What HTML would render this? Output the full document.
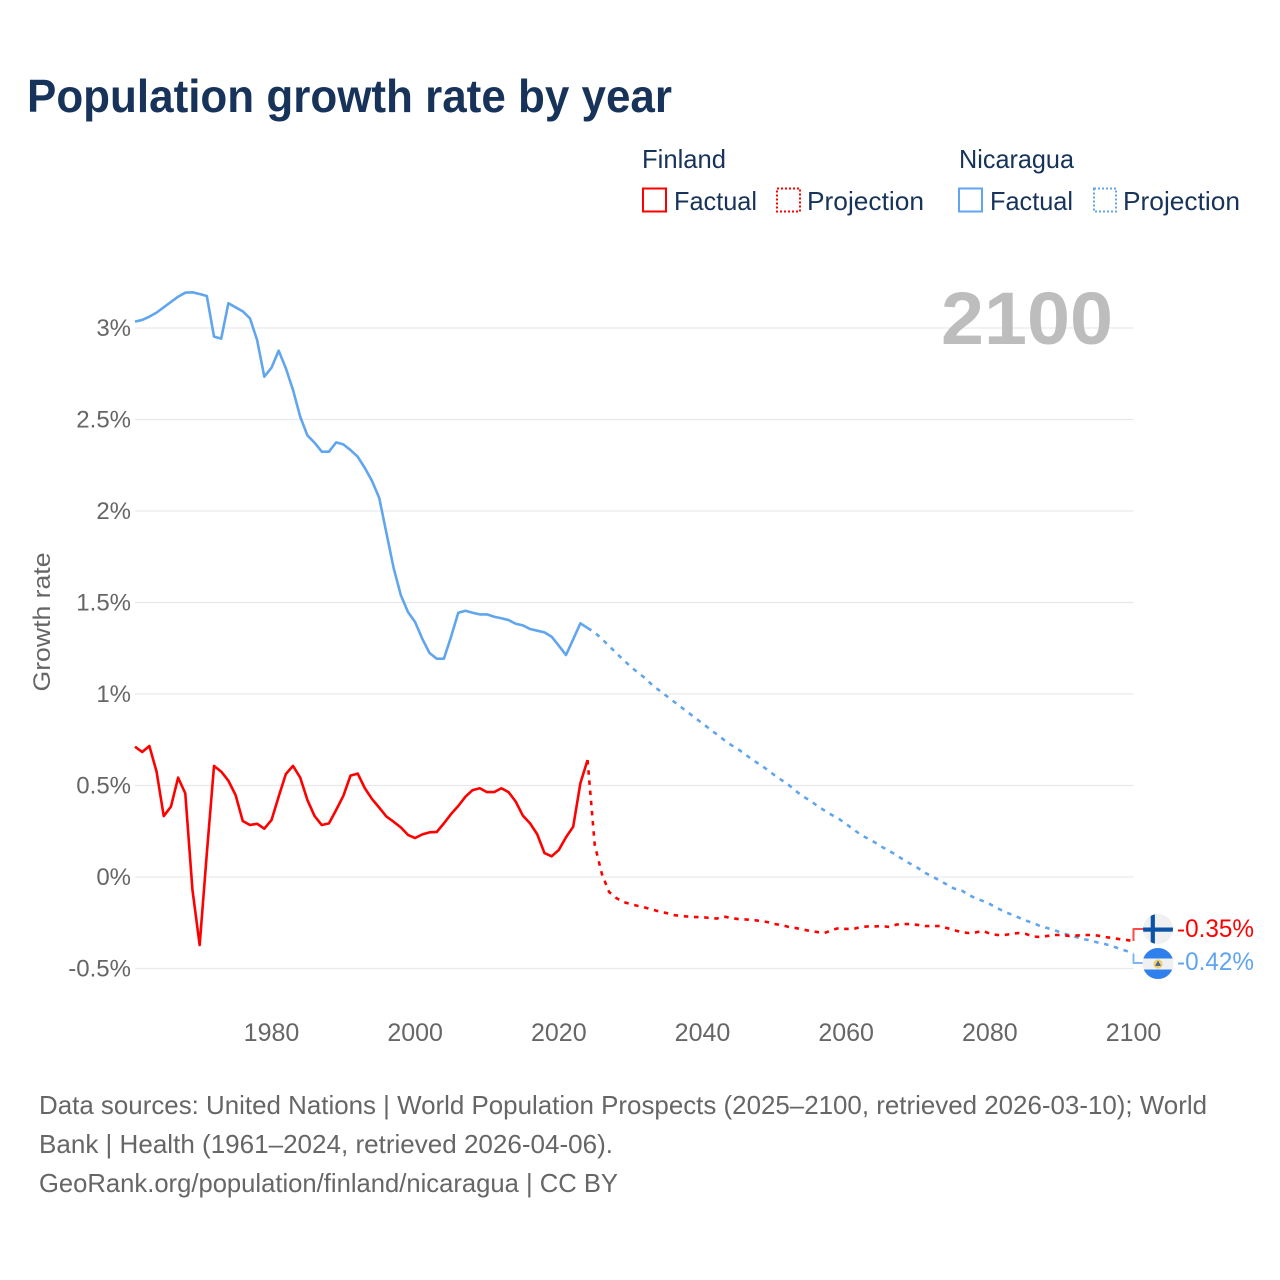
<!DOCTYPE html>
<html lang="en">
<head>
<meta charset="utf-8">
<title>Population growth rate by year</title>
<style>
html,body{margin:0;padding:0;background:#fff;width:1280px;height:1280px;overflow:hidden}
svg{display:block;font-family:"Liberation Sans",sans-serif}
</style>
</head>
<body>
<svg id="chart" width="1280" height="1280" viewBox="0 0 1280 1280" xmlns="http://www.w3.org/2000/svg">
  <defs>
    <clipPath id="clip-fi"><circle cx="1158" cy="929" r="15"/></clipPath>
    <clipPath id="clip-ni"><circle cx="1158" cy="963.5" r="15.5"/></clipPath>
  </defs>
  <rect width="1280" height="1280" fill="#fff"/>
  <text x="27" y="112" font-size="46" font-weight="700" fill="#17335a" textLength="645" lengthAdjust="spacingAndGlyphs">Population growth rate by year</text>

  <g font-size="26" fill="#17335a">
    <text x="642" y="168" textLength="84" lengthAdjust="spacingAndGlyphs">Finland</text>
    <rect x="643" y="188.5" width="23" height="23" fill="none" stroke="#ff0000" stroke-width="2"/>
    <text x="674" y="210" textLength="83" lengthAdjust="spacingAndGlyphs">Factual</text>
    <rect x="777" y="188.5" width="23" height="23" fill="none" stroke="#ff0000" stroke-width="2" stroke-dasharray="2 2"/>
    <text x="807" y="210" textLength="117" lengthAdjust="spacingAndGlyphs">Projection</text>
    <text x="959" y="168" textLength="115" lengthAdjust="spacingAndGlyphs">Nicaragua</text>
    <rect x="959" y="188.5" width="23" height="23" fill="none" stroke="#60a5ee" stroke-width="2"/>
    <text x="990" y="210" textLength="83" lengthAdjust="spacingAndGlyphs">Factual</text>
    <rect x="1094" y="188.5" width="22" height="23" fill="none" stroke="#60a5ee" stroke-width="2" stroke-dasharray="2 2"/>
    <text x="1123" y="210" textLength="117" lengthAdjust="spacingAndGlyphs">Projection</text>
  </g>

  <g id="grid"></g>
  <g id="y-ticks"></g>
  <g id="x-ticks"></g>
  <text transform="translate(50 622) rotate(-90)" text-anchor="middle" font-size="24" fill="#666" textLength="139" lengthAdjust="spacingAndGlyphs">Growth rate</text>
  <text x="1113" y="344" text-anchor="end" font-size="74" font-weight="700" fill="#bdbdbd" textLength="172" lengthAdjust="spacingAndGlyphs">2100</text>

  <g id="series"></g>

  <g>
    <circle cx="1158" cy="929" r="15" fill="#eff0f1"/>
    <g clip-path="url(#clip-fi)">
      <rect x="1143" y="927.5" width="30" height="4.2" fill="#0b53a7"/>
      <rect x="1150.7" y="914" width="4.2" height="30" fill="#0b53a7"/>
    </g>
  </g>
  <g>
    <circle cx="1158" cy="963.5" r="15.5" fill="#eff0f1"/>
    <g clip-path="url(#clip-ni)">
      <rect x="1142" y="948" width="32" height="10.5" fill="#2f80ed"/>
      <rect x="1142" y="969.5" width="32" height="10" fill="#2f80ed"/>
    </g>
    <circle cx="1158" cy="964" r="4.6" fill="#f4cf6b"/>
    <path d="M1158 960.5 L1161 966 L1155 966 Z" fill="#44699a"/>
  </g>
  <text id="label-fi" x="1177" y="937" font-size="25" fill="#ff0000" textLength="77" lengthAdjust="spacingAndGlyphs"></text>
  <text id="label-ni" x="1177" y="970" font-size="25" fill="#60a5ee" textLength="77" lengthAdjust="spacingAndGlyphs"></text>

  <g font-size="26" fill="#666">
    <text x="39" y="1114" textLength="1168" lengthAdjust="spacingAndGlyphs">Data sources: United Nations | World Population Prospects (2025–2100, retrieved 2026-03-10); World</text>
    <text x="39" y="1153" textLength="574" lengthAdjust="spacingAndGlyphs">Bank | Health (1961–2024, retrieved 2026-04-06).</text>
    <text x="39" y="1192" textLength="579" lengthAdjust="spacingAndGlyphs">GeoRank.org/population/finland/nicaragua | CC BY</text>
  </g>
</svg>
<script>
const factualStartYear = 1961;
const projectionStartYear = 2025;
const yTickValues = [3, 2.5, 2, 1.5, 1, 0.5, 0, -0.5];
const yTickLabels = ["3%", "2.5%", "2%", "1.5%", "1%", "0.5%", "0%", "-0.5%"];
const xTickValues = [1980, 2000, 2020, 2040, 2060, 2080, 2100];

const finlandFactual = [
  .712,.683,.716,.576,.333,.384,.543,.457,-.071,-.372,
  .129,.607,.576,.526,.448,.306,.284,.291,.264,.311,
  .439,.563,.607,.543,.421,.333,.284,.293,.366,.443,
  .554,.565,.485,.426,.379,.33,.302,.271,.23,.213,
  .233,.244,.246,.293,.344,.388,.439,.475,.485,.464,
  .464,.485,.464,.412,.335,.293,.233,.131,.113,.148,
  .217,.275,.512,.639
];
const finlandProjection = [
  .175,.016,-.082,-.115,-.137,-.148,-.158,-.167,-.178,-.189,
  -.197,-.208,-.213,-.216,-.219,-.219,-.224,-.227,-.216,-.224,
  -.23,-.232,-.235,-.24,-.246,-.257,-.262,-.273,-.279,-.287,
  -.295,-.301,-.306,-.29,-.279,-.284,-.284,-.273,-.27,-.27,
  -.268,-.273,-.26,-.257,-.257,-.262,-.268,-.268,-.268,-.279,
  -.29,-.301,-.306,-.303,-.295,-.309,-.317,-.317,-.311,-.306,
  -.311,-.325,-.328,-.322,-.317,-.317,-.322,-.32,-.317,-.317,
  -.32,-.328,-.333,-.339,-.344,-.35
];
const nicaraguaFactual = [
  3.035,3.044,3.062,3.084,3.113,3.142,3.171,3.193,3.195,3.186,
  3.175,2.953,2.942,3.135,3.113,3.091,3.053,2.934,2.734,2.783,
  2.876,2.78,2.661,2.515,2.413,2.373,2.324,2.324,2.375,2.364,
  2.333,2.297,2.235,2.164,2.071,1.88,1.689,1.541,1.448,1.393,
  1.301,1.224,1.193,1.193,1.313,1.444,1.455,1.444,1.435,1.435,
  1.422,1.414,1.404,1.384,1.375,1.355,1.346,1.337,1.313,1.264,
  1.213,1.299,1.386,1.361
];
const nicaraguaProjection = [
  1.336,1.301,1.262,1.224,1.186,1.15,1.117,1.087,1.049,1.019,
  .989,.959,.929,.899,.869,.839,.809,.779,.749,.721,
  .697,.669,.639,.615,.587,.557,.53,.503,.47,.44,
  .418,.388,.363,.339,.317,.29,.26,.232,.21,.189,
  .164,.142,.12,.093,.071,.049,.022,.003,-.019,-.041,
  -.063,-.071,-.098,-.115,-.131,-.148,-.169,-.189,-.205,-.221,
  -.238,-.251,-.268,-.279,-.29,-.306,-.317,-.328,-.339,-.347,
  -.358,-.366,-.377,-.391,-.404,-.42
];

const NS = "http://www.w3.org/2000/svg";
const RED = "#ff0000";
const BLUE = "#60a5ee";
function xScale(year) { return 135 + (year - 1961) * (998.5 / 139); }
function yScale(value) { return 877 - value * 183; }
function pts(startYear, values) {
  return values.map(function (v, i) {
    return xScale(startYear + i).toFixed(2) + "," + yScale(v).toFixed(2);
  });
}
function lineEl(points, color, dash) {
  const el = document.createElementNS(NS, "polyline");
  el.setAttribute("points", points.join(" "));
  el.setAttribute("fill", "none");
  el.setAttribute("stroke", color);
  el.setAttribute("stroke-width", "2.6");
  el.setAttribute("stroke-linejoin", "round");
  if (dash) el.setAttribute("stroke-dasharray", dash);
  return el;
}

const gridG = document.getElementById("grid");
const yG = document.getElementById("y-ticks");
yTickValues.forEach(function (v, i) {
  const gl = document.createElementNS(NS, "line");
  
  
  gl.setAttribute("x1", 135);
  gl.setAttribute("x2", 1133.5);
  gl.setAttribute("y1", yScale(v));
  gl.setAttribute("y2", yScale(v));
  gl.setAttribute("stroke", "#e9e9e9");
  gl.setAttribute("stroke-width", "1.3");
  gridG.appendChild(gl);
  const t = document.createElementNS(NS, "text");
  
  
  t.setAttribute("x", 131);
  t.setAttribute("y", yScale(v) + 8);
  t.setAttribute("text-anchor", "end");
  t.setAttribute("font-size", "24");
  t.setAttribute("fill", "#666");
  t.textContent = yTickLabels[i];
  yG.appendChild(t);
});

const xG = document.getElementById("x-ticks");
xTickValues.forEach(function (year) {
  const t = document.createElementNS(NS, "text");
  
  
  t.setAttribute("x", xScale(year));
  t.setAttribute("y", 1041);
  t.setAttribute("text-anchor", "middle");
  t.setAttribute("font-size", "25");
  t.setAttribute("fill", "#666");
  t.textContent = String(year);
  xG.appendChild(t);
});

const seriesG = document.getElementById("series");
const DASH = "4.5 5.7";

const niFactual = lineEl(pts(factualStartYear, nicaraguaFactual), BLUE);


seriesG.appendChild(niFactual);

const niProjPts = pts(factualStartYear + nicaraguaFactual.length - 1, nicaraguaFactual.slice(-1)).concat(pts(projectionStartYear, nicaraguaProjection));
const niProj = lineEl(niProjPts, BLUE, DASH);


seriesG.appendChild(niProj);

const fiFactual = lineEl(pts(factualStartYear, finlandFactual), RED);


seriesG.appendChild(fiFactual);

const fiProjPts = pts(factualStartYear + finlandFactual.length - 1, finlandFactual.slice(-1)).concat(pts(projectionStartYear, finlandProjection));
const fiProj = lineEl(fiProjPts, RED, DASH);


seriesG.appendChild(fiProj);

const lastFi = finlandProjection[finlandProjection.length - 1];
const lastNi = nicaraguaProjection[nicaraguaProjection.length - 1];
const endX = xScale(2100);

const fiConn = lineEl([endX + "," + yScale(lastFi), endX + ",929", "1143,929"], "#ff4a4a");


fiConn.setAttribute("stroke-width", "2");
seriesG.appendChild(fiConn);

const niConn = lineEl([endX + "," + yScale(lastNi), endX + ",963", "1143,963"], "#80b8f1");


niConn.setAttribute("stroke-width", "2");
seriesG.appendChild(niConn);

document.getElementById("label-fi").textContent = lastFi.toFixed(2) + "%";
document.getElementById("label-ni").textContent = lastNi.toFixed(2) + "%";
</script>
</body>
</html>
